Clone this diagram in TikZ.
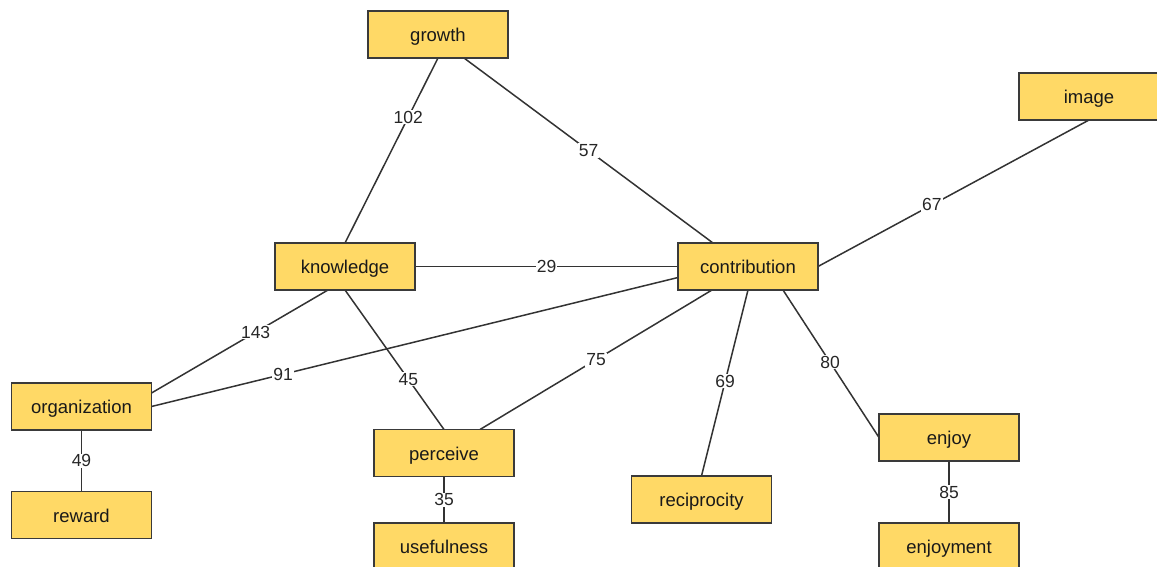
\documentclass[tikz,border=0pt]{standalone}
\usepackage{fontspec}
\setmainfont{Liberation Sans}
\definecolor{boxfill}{HTML}{FFD966}
\definecolor{boxline}{HTML}{3A3A3A}
\definecolor{edgeline}{HTML}{333333}
\pgfdeclarelayer{bg}
\pgfsetlayers{bg,main}
\begin{document}
\begin{tikzpicture}[x=1pt,y=-1pt,
  box/.style={draw=boxline,fill=boxfill,line width=1.5pt,minimum width=140pt,minimum height=47pt,inner sep=0pt,outer sep=0pt,font=\fontsize{18.5}{20}\selectfont,text=black!90,text height=16pt,text depth=2pt},
  edge/.style={draw=edgeline,line width=1.5pt},
  lbl/.style={fill=white,inner sep=1pt,font=\fontsize{17.5}{20}\selectfont,text=black!85}]
\useasboundingbox (0,0) rectangle (1157,567);
\clip (0,0) rectangle (1157,567);
\node[box] (growth) at (438,34.5) {growth};
\node[box] (image) at (1089,96.5) {image};
\node[box] (knowledge) at (345,266.5) {knowledge};
\node[box] (contribution) at (748,266.5) {contribution};
\node[box] (organization) at (81.5,406.5) {organization};
\node[box] (reward) at (81.5,515) {reward};
\node[box] (perceive) at (444,453) {perceive};
\node[box] (usefulness) at (444,546.5) {usefulness};
\node[box] (reciprocity) at (701.5,499.5) {reciprocity};
\node[box] (enjoy) at (949,437.5) {enjoy};
\node[box] (enjoyment) at (949,546.5) {enjoyment};
\begin{pgfonlayer}{bg}
\draw[edge] (growth.south) -- node[lbl,pos=0.32] {102} (knowledge.north);
\draw[edge] ([xshift=26pt]growth.south) -- node[lbl,pos=0.5] {57} ([xshift=-35pt]contribution.north);
\draw[edge] (image.south) -- node[lbl,pos=0.58] {67} (contribution.east);
\draw[edge] (knowledge.east) -- node[lbl,pos=0.5] {29} (contribution.west);
\draw[edge] ([xshift=-17pt]knowledge.south) -- node[lbl,pos=0.41] {143} ([yshift=13.5pt]organization.east);
\draw[edge] ([yshift=-11pt]contribution.west) -- node[lbl,pos=0.75] {91} (organization.east);
\draw[edge] (knowledge.south) -- node[lbl,pos=0.64] {45} (perceive.north);
\draw[edge] ([xshift=-36pt]contribution.south) -- node[lbl,pos=0.5] {75} ([xshift=36pt]perceive.north);
\draw[edge] (contribution.south) -- node[lbl,pos=0.49] {69} (reciprocity.north);
\draw[edge] ([xshift=35pt]contribution.south) -- node[lbl,pos=0.49] {80} (enjoy.west);
\draw[edge] (organization.south) -- node[lbl,pos=0.5] {49} (reward.north);
\draw[edge] (perceive.south) -- node[lbl,pos=0.5] {35} (usefulness.north);
\draw[edge] (enjoy.south) -- node[lbl,pos=0.5] {85} (enjoyment.north);
\end{pgfonlayer}
\end{tikzpicture}
\end{document}
